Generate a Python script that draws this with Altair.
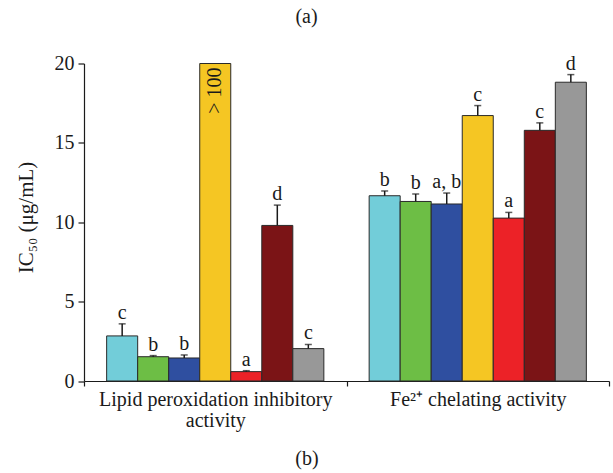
import altair as alt
import pandas as pd

groups = ["Lipid peroxidation inhibitory|activity", "Fe²⁺ chelating activity"]
series = ["Extract 1", "Extract 2", "Extract 3", "Extract 4", "Extract 5", "Extract 6", "Extract 7"]
colors = ["#72CDD9", "#6DBE45", "#2F4FA0", "#F5C623", "#EC2227", "#7B1416", "#989898"]

lipid_values = [2.84, 1.53, 1.45, 20.0, 0.59, 9.80, 2.04]
lipid_err_top = [3.60, 1.60, 1.64, None, 0.65, 11.08, 2.30]
lipid_letters = ["c", "b", "b", "", "a", "d", "c"]
lipid_notes = ["", "", "", "> 100", "", "", ""]

fe_values = [11.67, 11.31, 11.15, 16.72, 10.26, 15.79, 18.82]
fe_err_top = [11.97, 11.78, 11.84, 17.35, 10.62, 16.26, 19.30]
fe_letters = ["b", "b", "a, b", "c", "a", "c", "d"]
fe_notes = ["", "", "", "", "", "", ""]

rows = []
for g, vals, errs, lets, notes in [
    (groups[0], lipid_values, lipid_err_top, lipid_letters, lipid_notes),
    (groups[1], fe_values, fe_err_top, fe_letters, fe_notes),
]:
    for s, v, e, l, n in zip(series, vals, errs, lets, notes):
        rows.append({
            "group": g, "series": s, "value": v, "err": e,
            "top": e if e is not None else v, "letter": l, "note": n,
        })
df = pd.DataFrame(rows)

FONT = "Liberation Serif"
INK = "#1a1a1a"

x_enc = alt.X(
    "group:N", sort=groups,
    scale=alt.Scale(paddingInner=0, paddingOuter=0),
    axis=alt.Axis(
        title="(b)", labelAngle=0, tickBand="extent",
        labelExpr="split(datum.label, '|')", labelLineHeight=21,
        labelFontSize=20, labelPadding=3, tickSize=5, labelLimit=0,
        labelFont=FONT, titleFont=FONT,
        titleX=222.5, titleY=77, titleBaseline="middle",
        titleFontWeight="normal", titleFontSize=20,
    ),
)
xo_enc = alt.XOffset("series:N", sort=series, scale=alt.Scale(paddingInner=0, paddingOuter=0.73))
y_scale = alt.Scale(domain=[0, 20], nice=False)

base = alt.Chart(df)

bars = base.mark_bar(stroke="#2a2a2a", strokeWidth=1).encode(
    x=x_enc, xOffset=xo_enc,
    y=alt.Y("value:Q", scale=y_scale, axis=alt.Axis(
        title="IC₅₀  (μg/mL)", values=[0, 5, 10, 15, 20], tickSize=6,
        labelPadding=4, labelFontSize=20, titleFontSize=21,
        labelFont=FONT, titleFont=FONT, titleBaseline="middle",
        titleFontWeight="normal", titleX=-58, titleY=153.5,
    )),
    color=alt.Color("series:N", sort=series, scale=alt.Scale(domain=series, range=colors), legend=None),
)

err_df = base.transform_filter("isValid(datum.err)")
err_rule = err_df.mark_rule(color=INK, strokeWidth=1.5).encode(
    x=x_enc, xOffset=xo_enc, y=alt.Y("value:Q", scale=y_scale), y2="err:Q"
)
caps = err_df.mark_tick(color=INK, size=7, thickness=1.5).encode(
    x=x_enc, xOffset=xo_enc, y=alt.Y("err:Q", scale=y_scale)
)
letters = base.mark_text(font=FONT, fontSize=20, baseline="alphabetic", dy=-5, color=INK).encode(
    x=x_enc, xOffset=xo_enc, y=alt.Y("top:Q", scale=y_scale), text="letter:N"
)
notes = base.transform_filter("datum.note != ''").mark_text(
    font=FONT, fontSize=20, angle=270, align="right", baseline="middle", dx=-4, color=INK
).encode(x=x_enc, xOffset=xo_enc, y=alt.Y("value:Q", scale=y_scale), text="note:N")

chart = alt.layer(bars, err_rule, caps, letters, notes).properties(
    width=525, height=317.5,
    background="white",
    autosize=alt.AutoSizeParams(type="none"),
    padding={"left": 84, "top": 63.5, "right": 4, "bottom": 92},
    title=alt.TitleParams("(a)", anchor="middle", dx=-40, offset=16, fontSize=20,
                          fontWeight="normal", font=FONT, color=INK),
).configure_view(stroke=None).configure_axis(
    grid=False, domainColor=INK, tickColor=INK, labelColor=INK,
    titleColor=INK, labelFont=FONT, titleFont=FONT, domainWidth=1.2, tickWidth=1.2,
)

chart.save("out.html", embed_options={"renderer": "svg", "actions": False})
